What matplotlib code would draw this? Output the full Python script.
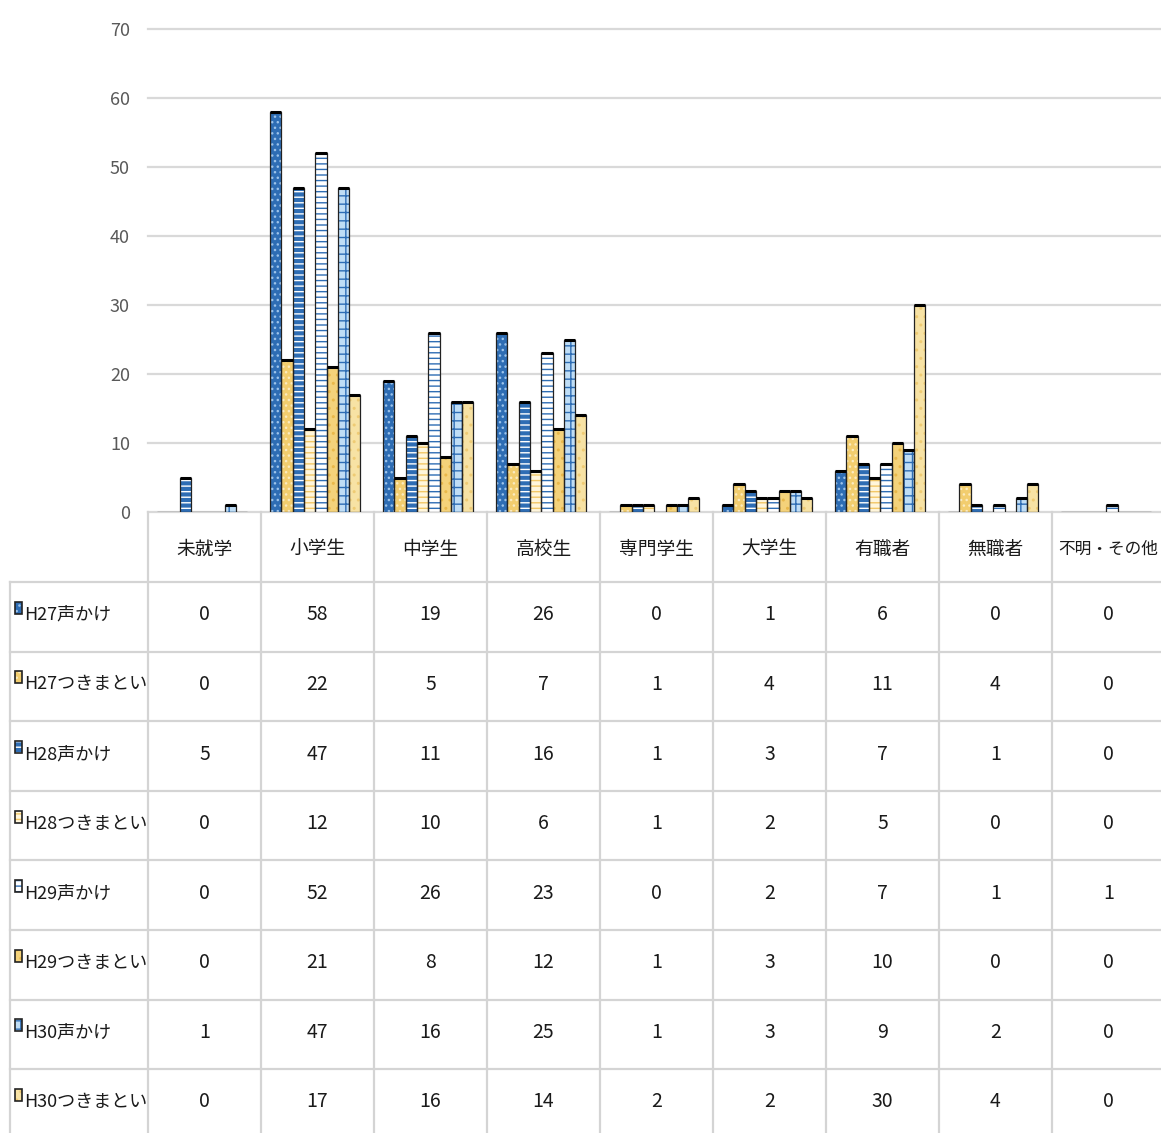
import numpy as np
import matplotlib
matplotlib.use("Agg")
import matplotlib.pyplot as plt
from matplotlib.patches import Rectangle
from matplotlib.transforms import blended_transform_factory

plt.rcParams['font.family'] = ['Noto Sans CJK JP', 'DejaVu Sans']

# categories and series
categories = ['未就学', '小学生', '中学生', '高校生', '専門学生', '大学生', '有職者', '無職者', '不明・その他']
series_names = ['H27声かけ', 'H27つきまとい', 'H28声かけ', 'H28つきまとい',
                'H29声かけ', 'H29つきまとい', 'H30声かけ', 'H30つきまとい']

h27_koe = [0, 58, 19, 26, 0, 1, 6, 0, 0]
h27_tsuki = [0, 22, 5, 7, 1, 4, 11, 4, 0]
h28_koe = [5, 47, 11, 16, 1, 3, 7, 1, 0]
h28_tsuki = [0, 12, 10, 6, 1, 2, 5, 0, 0]
h29_koe = [0, 52, 26, 23, 0, 2, 7, 1, 1]
h29_tsuki = [0, 21, 8, 12, 1, 3, 10, 0, 0]
h30_koe = [1, 47, 16, 25, 1, 3, 9, 2, 0]
h30_tsuki = [0, 17, 16, 14, 2, 2, 30, 4, 0]

values = [h27_koe, h27_tsuki, h28_koe, h28_tsuki, h29_koe, h29_tsuki, h30_koe, h30_tsuki]
yticks = [0, 10, 20, 30, 40, 50, 60, 70]

# (face, hatch, hatch colour) per series
styles = [
    ('#2E6DB4', '...', '#9CC3EA'),
    ('#F2CD6E', '...', '#FBEBC0'),
    ('#2E6DB4', '---', '#FFFFFF'),
    ('#FFF6DC', '---', '#F2C766'),
    ('#FFFFFF', '---', '#2E6DB4'),
    ('#F4D27A', '..', '#E9B84A'),
    ('#BFDDF5', '++', '#2E6DB4'),
    ('#F7E2A4', '..', '#EFCB74'),
]
edge = '#222222'
txt_c = '#1a1a1a'

W, H = 1161, 1133
fig = plt.figure(figsize=(W / 100, H / 100), dpi=100)

# pixel canvas for the table
tab = fig.add_axes([0, 0, 1, 1])
tab.set_xlim(0, W)
tab.set_ylim(H, 0)
tab.axis('off')

plot_left, plot_right, plot_top, plot_bot = 148, 1165, 29, 512
ax = fig.add_axes([plot_left / W, (H - plot_bot) / H,
                   (plot_right - plot_left) / W, (plot_bot - plot_top) / H])
ax.patch.set_alpha(0)

n = len(categories)
x = np.arange(n)
bw = 0.1
for k, (vals, (fc, hat, hc)) in enumerate(zip(values, styles)):
    pos = x - 0.37 + k * bw
    ax.bar(pos, vals, bw, color=fc, hatch=hat, edgecolor=hc, linewidth=0, zorder=3)
    ax.bar(pos, vals, bw, fill=False, edgecolor=edge, linewidth=0.9, zorder=4)
    # heavier cap like the original
    for p, v in zip(pos, vals):
        if v > 0:
            ax.plot([p - bw / 2, p + bw / 2], [v, v], color='black', lw=2.2, zorder=5,
                    solid_capstyle='butt')

ax.set_xlim(-0.5, n - 0.5)
ax.set_ylim(0, 70)
ax.set_yticks(yticks)
ax.set_xticks([])
ax.tick_params(axis='y', length=0, pad=13, labelsize=13, labelcolor='#595959')
ax.grid(axis='y', color='#D9D9D9', linewidth=1.6, zorder=0)
for gl in ax.get_ygridlines():
    gl.set_clip_on(False)
for s in ax.spines.values():
    s.set_visible(False)

# table: x follows the bar axis, y in pixels
tr = blended_transform_factory(ax.transData, tab.transData)
grid_c = '#D4D4D4'
head_top, head_bot = 512, 582
row_h = 69.6
row_tops = [head_bot + i * row_h for i in range(len(series_names) + 1)]
leg_left = 10

# horizontal lines
for yy in row_tops:
    tab.plot([leg_left, W], [yy, yy], color=grid_c, lw=1.6)
# vertical lines
tab.plot([leg_left, leg_left], [head_bot, H], color=grid_c, lw=1.6)
for i in range(n + 1):
    ax.plot([i - 0.5, i - 0.5], [head_top, H], color=grid_c, lw=1.6,
            transform=tr, clip_on=False)

# header (last one is wider, keep it inside the figure)
for i, c in enumerate(categories):
    fs = 13.5 if len(c) < 5 else 12
    ax.text(i, (head_top + head_bot) / 2 + 2, c, transform=tr, ha='center', va='center',
            fontsize=fs, color=txt_c, clip_on=False)

# rows
for r, (name, vals, (fc, hat, hc)) in enumerate(zip(series_names, values, styles)):
    yc = row_tops[r] + row_h / 2 - 2
    tab.add_patch(Rectangle((15, yc - 13), 7, 12, facecolor=fc, hatch=hat,
                            edgecolor=hc, linewidth=0))
    tab.add_patch(Rectangle((15, yc - 13), 7, 12, fill=False, edgecolor=edge, linewidth=1.2))
    tab.text(24, yc, name, ha='left', va='center', fontsize=13, color=txt_c)
    for i, v in enumerate(vals):
        ax.text(i, yc, str(v), transform=tr, ha='center', va='center',
                fontsize=14, color=txt_c, clip_on=False)

fig.savefig('out.png', dpi=100)
